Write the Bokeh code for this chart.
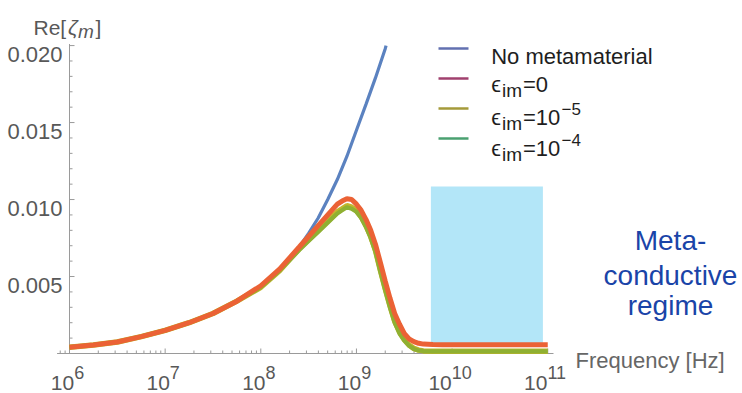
from bokeh.plotting import figure
from bokeh.models import Label, Range1d
from bokeh.embed import file_html
from bokeh.resources import INLINE

# ---------------- data ----------------
freq_hz = [1e6, 1.78e6, 3.16e6, 5.62e6, 1e7, 1.78e7, 3.16e7, 5.62e7, 1e8, 1.58e8, 2.51e8,
           3.16e8, 3.98e8, 5.01e8, 6.31e8, 7.08e8, 7.94e8, 8.91e8, 1e9, 1.12e9, 1.26e9,
           1.41e9, 1.58e9, 1.78e9, 2e9, 2.24e9, 2.51e9, 2.82e9, 3.16e9, 3.55e9, 3.98e9,
           4.47e9, 5.01e9, 6.31e9, 7.94e9, 1e10, 3.16e10, 1e11]

re_zeta_eps0 = [0.00041, 0.00055, 0.00075, 0.0011, 0.0015, 0.0020, 0.0026, 0.0034, 0.0044, 0.0055,
                0.0069, 0.0076, 0.0083, 0.0090, 0.0097, 0.0099, 0.01005, 0.0100, 0.0097, 0.0093,
                0.0087, 0.0080, 0.0071, 0.0059, 0.0047, 0.0036, 0.0026, 0.0019, 0.0013, 0.00095,
                0.00077, 0.00066, 0.00061, 0.00058, 0.00057, 0.00057, 0.00057, 0.00057]

re_zeta_eps1e5 = [0.00041, 0.00055, 0.00075, 0.0011, 0.0015, 0.0020, 0.0026, 0.0034, 0.0043, 0.0054,
                  0.0068, 0.0074, 0.0080, 0.0086, 0.0092, 0.0094, 0.0096, 0.0095, 0.0093, 0.0089,
                  0.0083, 0.0076, 0.0067, 0.0054, 0.0042, 0.0031, 0.0021, 0.0014, 0.0009, 0.00055,
                  0.00033, 0.00022, 0.00017, 0.00015, 0.00015, 0.00015, 0.00015, 0.00015]

re_zeta_eps1e4 = [0.00041, 0.00055, 0.00075, 0.0011, 0.0015, 0.0020, 0.0026, 0.0034, 0.0043, 0.0054,
                  0.0067, 0.0073, 0.0079, 0.0085, 0.0091, 0.0093, 0.0095, 0.0094, 0.0092, 0.0088,
                  0.0082, 0.0075, 0.0066, 0.0053, 0.0041, 0.0030, 0.0020, 0.0013, 0.00085, 0.0005,
                  0.0003, 0.0002, 0.00016, 0.00014, 0.00014, 0.00014, 0.00014, 0.00014]

freq_nometa_hz = [1e6, 1.78e6, 3.16e6, 5.62e6, 1e7, 1.78e7, 3.16e7, 5.62e7, 1e8, 1.58e8, 2.51e8,
                  3.16e8, 3.98e8, 5.01e8, 6.31e8, 7.94e8, 1e9, 1.26e9, 1.58e9, 2e9, 2.04e9]
re_zeta_nometa = [0.00041, 0.00055, 0.00075, 0.0011, 0.0015, 0.0020, 0.0026, 0.0034, 0.0044, 0.0055,
                  0.0069, 0.0078, 0.0088, 0.0100, 0.0113, 0.0128, 0.0145, 0.0162, 0.0179, 0.0198,
                  0.0200]

# meta-conductive regime (frequency band and height of the shaded box)
regime_freq = [6.0e9, 8.9e10]
regime_re = [0.0006, 0.01085]

# axes: ticks and tick labels
x_ticks = [1e6, 1e7, 1e8, 1e9, 1e10, 1e11]
x_tick_base = ["10", "10", "10", "10", "10", "10"]
x_tick_exp = ["6", "7", "8", "9", "10", "11"]
x_minor = [8e5, 9e5] + [m * 10 ** e for e in range(6, 11) for m in range(2, 10)]
x_axis_extent = [10 ** 5.87, 10 ** 11.06]
y_ticks = [0.005, 0.010, 0.015, 0.020]
y_tick_labels = ["0.005", "0.010", "0.015", "0.020"]
y_minor = [0.001, 0.002, 0.003, 0.004, 0.006, 0.007, 0.008, 0.009, 0.011, 0.012, 0.013,
           0.014, 0.016, 0.017, 0.018, 0.019]
y_axis_extent = [0.0, 0.0201]

legend_names = ["No metamaterial", "0", "10", "10"]
legend_exps = ["", "", "\u22125", "\u22124"]
legend_colors = ["#6270b0", "#a0406e", "#a49a3a", "#4aa070"]

# ---------------- layout (pixel geometry of the plotting frame) ----------------
W, H = 742, 393
X0_PX, DEC_PX = 69.0, 95.65          # pixel of 10^6, pixels per decade
Y0_PX, UNIT_PX = 353.0, 15396.0      # pixel of 0, pixels per unit of Re


def X(px):
    return 10 ** (6 + (px - X0_PX) / DEC_PX)


def Y(py):
    return (Y0_PX - py) / UNIT_PX


FONT = "Liberation Sans"
GREY = "#585858"
AXIS = "#9a9a9a"

p = figure(width=W, height=H, x_axis_type="log", x_axis_location=None, y_axis_location=None,
           x_range=Range1d(X(0), X(W)), y_range=Range1d(Y(H), Y(0)),
           output_backend="svg", toolbar_location=None, min_border=0)
p.outline_line_color = None
p.grid.visible = False
p.background_fill_color = "white"
p.border_fill_color = "white"

# ---- axes (Mathematica style: crossing at the origin, ticks pointing inwards) ----
origin_x = x_ticks[0]
tick_major, tick_minor = 5.0, 3.0
p.segment(x0=[x_axis_extent[0]], x1=[x_axis_extent[1]], y0=[0], y1=[0], line_color=AXIS, line_width=1)
p.segment(x0=[origin_x], x1=[origin_x], y0=[y_axis_extent[0]], y1=[y_axis_extent[1]],
          line_color=AXIS, line_width=1)
p.segment(x0=x_ticks, x1=x_ticks, y0=[0] * len(x_ticks), y1=[tick_major / UNIT_PX] * len(x_ticks),
          line_color=AXIS, line_width=1)
p.segment(x0=x_minor, x1=x_minor, y0=[0] * len(x_minor), y1=[tick_minor / UNIT_PX] * len(x_minor),
          line_color=AXIS, line_width=1)
p.segment(x0=[origin_x] * len(y_ticks), x1=[origin_x * 10 ** (tick_major / DEC_PX)] * len(y_ticks),
          y0=y_ticks, y1=y_ticks, line_color=AXIS, line_width=1)
p.segment(x0=[origin_x] * len(y_minor), x1=[origin_x * 10 ** (tick_minor / DEC_PX)] * len(y_minor),
          y0=y_minor, y1=y_minor, line_color=AXIS, line_width=1)

# ---- shaded meta-conductive regime ----
p.quad(left=[regime_freq[0]], right=[regime_freq[1]], bottom=[regime_re[0]], top=[regime_re[1]],
       fill_color="#b3e6f8", line_color=None)

# ---- curves ----
p.line(freq_nometa_hz, re_zeta_nometa, line_color="#5b82c0", line_width=3.2)
p.line(freq_hz, re_zeta_eps1e5, line_color="#c2b52c", line_width=5.5)
p.line(freq_hz, re_zeta_eps1e4, line_color="#8fb032", line_width=4.2)
p.line(freq_hz, re_zeta_eps0, line_color="#eb6235", line_width=5)


def lab(text, x, y, size, color="#1e1e1e", align="left", style="normal", xo=0, yo=0):
    p.add_layout(Label(x=x, y=y, text=text, text_font=FONT, text_font_size=f"{size}px",
                       text_color=color, text_align=align, text_font_style=style,
                       text_baseline="alphabetic", x_offset=xo, y_offset=yo))


# ---- tick labels ----
for t, s in zip(y_ticks, y_tick_labels):
    lab(s, origin_x, t, 22, color=GREY, align="right", xo=-7, yo=-8.5)

W10, WDIG = 23.35, 10.0
for t, b, e in zip(x_ticks, x_tick_base, x_tick_exp):
    left = -2 - (W10 + WDIG * len(e)) / 2
    lab(b, t, 0, 21, color=GREY, xo=left, yo=-29)
    lab(e, t, 0, 18, color=GREY, xo=left + W10, yo=-18.5)

# ---- legend ----
leg_x0, leg_x1, leg_text = 438, 468, 490.7
leg_line_y = [48, 78, 108, 138]
leg_base_y = [56, 84, 117, 148]
for c, ly in zip(legend_colors, leg_line_y):
    p.segment(x0=[X(leg_x0)], x1=[X(leg_x1)], y0=[Y(ly)], y1=[Y(ly)], line_color=c, line_width=2.5)

lab(legend_names[0], X(leg_text), Y(leg_base_y[0]), 22)
for i in range(1, 4):
    base = leg_base_y[i]
    lab("\u03f5", X(leg_text), Y(base), 22)
    lab("im", X(501.5), Y(base + 5.5), 19)
    lab("=" + legend_names[i], X(522.5), Y(base), 22)
    if legend_exps[i]:
        lab(legend_exps[i], X(561), Y(base - 8.5), 17)

# ---- axis titles ----
lab("Re[", X(33), Y(27), 21, color=GREY)
lab("\u03b6", X(67.5), Y(27), 21, color=GREY, style="italic")
lab("m", X(77.5), Y(31), 19, color=GREY, style="italic")
lab("]", X(95), Y(27), 21, color=GREY)
lab("Frequency [Hz]", X(575), Y(360), 22, color="#666666")

# ---- annotation ----
for txt, by in zip(["Meta-", "conductive", "regime"], [240, 275, 305]):
    lab(txt, X(670), Y(by), 28, color="#1a44a8", align="center")

open("out.html", "w").write(file_html(p, INLINE))
